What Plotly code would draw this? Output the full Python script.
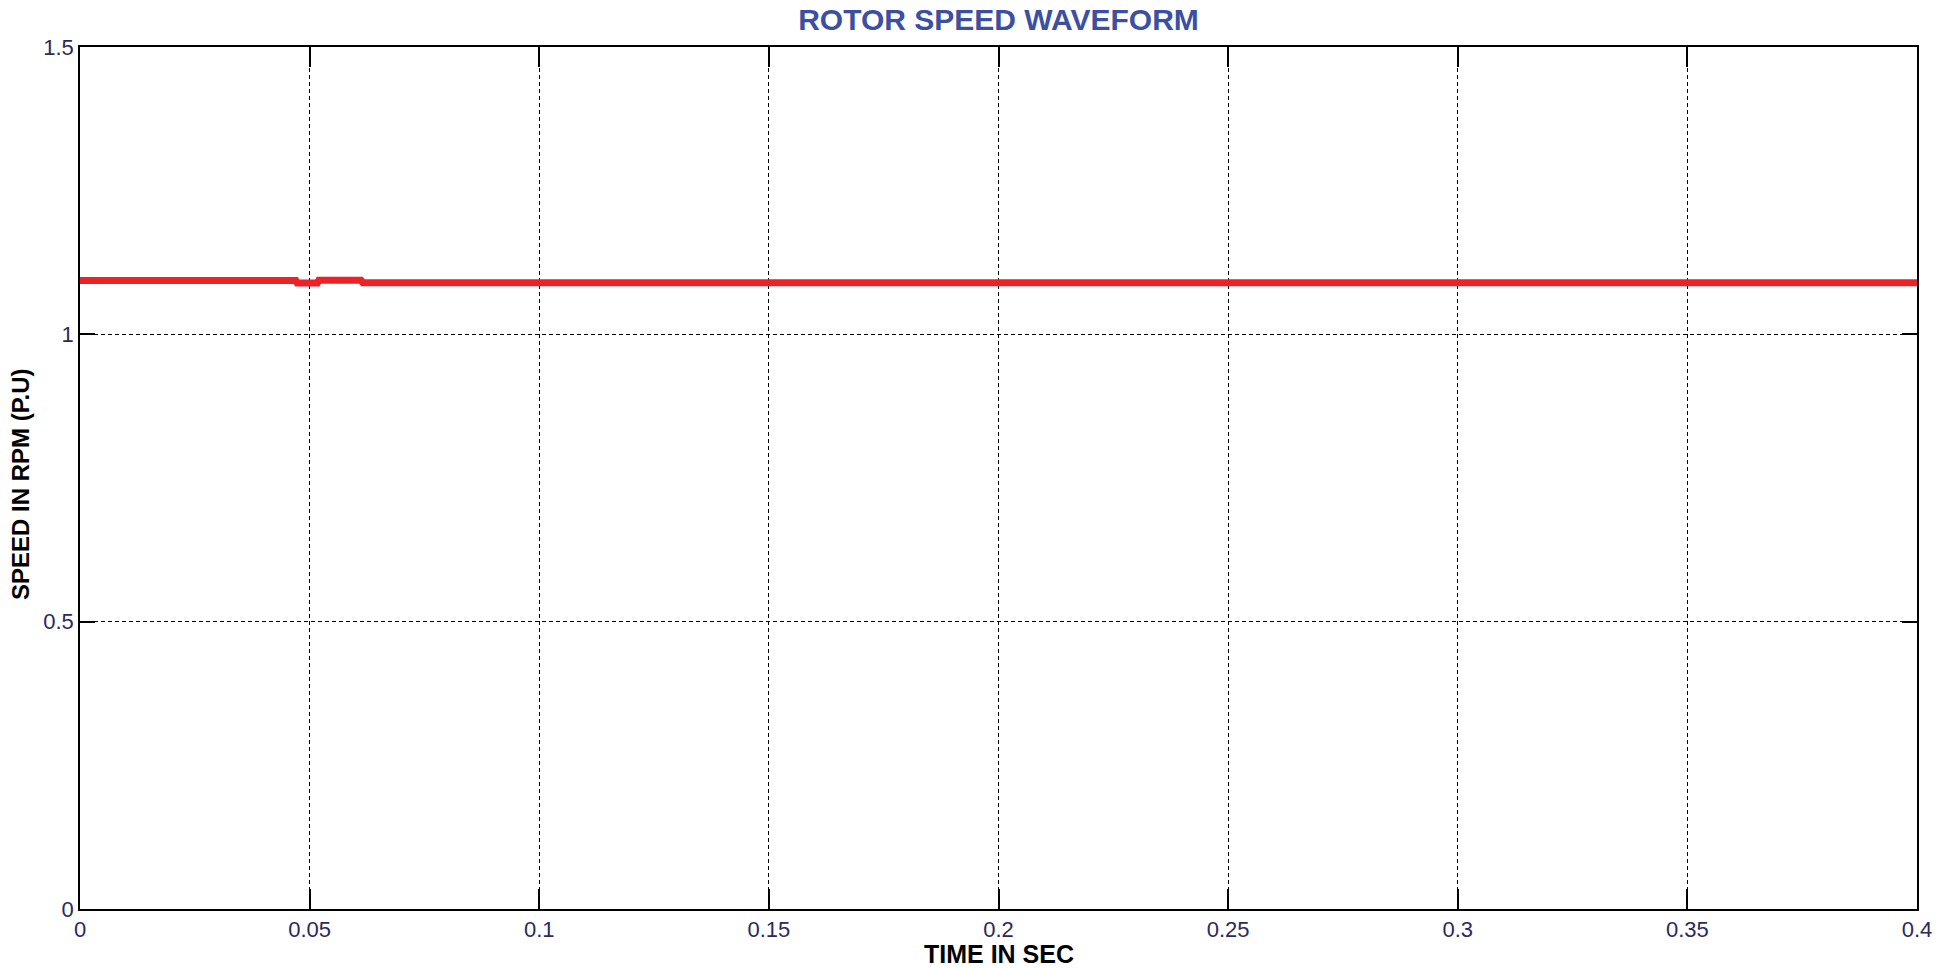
import plotly.graph_objects as go

# Data
time_s = [0.0, 0.0470, 0.0473, 0.0517, 0.0520, 0.0612, 0.0616, 0.0732, 0.0736, 0.0740, 0.4]
speed_pu = [1.0935, 1.0935, 1.0895, 1.0895, 1.0940, 1.0940, 1.0898, 1.0898, 1.0920, 1.0898, 1.0898]

x_ticks = [0, 0.05, 0.1, 0.15, 0.2, 0.25, 0.3, 0.35, 0.4]
x_tick_labels = ["0", "0.05", "0.1", "0.15", "0.2", "0.25", "0.3", "0.35", "0.4"]
y_ticks = [0, 0.5, 1, 1.5]
y_tick_labels = ["0", "0.5", "1", "1.5"]

FONT = "Liberation Sans, Arial, sans-serif"
TICK_COLOR = "#2a2a5e"

W, H = 1938, 969
L, T, PW, PH = 80, 47, 1837, 862

fig = go.Figure()
fig.add_trace(go.Scatter(
    x=time_s, y=speed_pu, mode="lines",
    line=dict(color="#EC2227", width=7),
    showlegend=False, hoverinfo="skip",
))

fig.update_layout(
    width=W, height=H,
    paper_bgcolor="white", plot_bgcolor="white",
    margin=dict(l=L, r=W - L - PW, t=T, b=H - T - PH, autoexpand=False),
    title=dict(
        text="ROTOR SPEED WAVEFORM",
        font=dict(family=FONT, size=30, color="#3B4FA3", weight="bold"),
        x=(L + PW / 2) / W, xanchor="center",
        y=1 - 19 / H, yanchor="middle", yref="container",
    ),
    font=dict(family=FONT),
    annotations=[
        dict(text="TIME IN SEC", xref="paper", yref="paper", x=0.5, y=0,
             xanchor="center", yanchor="middle", yshift=-45, showarrow=False,
             font=dict(family=FONT, size=25, color="black", weight="bold")),
        dict(text="SPEED IN RPM (P.U)", xref="paper", yref="paper", x=0, y=0.5,
             xanchor="center", yanchor="middle", xshift=-60, yshift=-6,
             textangle=-90, showarrow=False,
             font=dict(family=FONT, size=24, color="black", weight="bold")),
    ],
)

fig.update_xaxes(
    range=[0, 0.4], tickvals=x_ticks, ticktext=x_tick_labels,
    showline=True, linecolor="black", linewidth=1.5, mirror="ticks",
    ticks="inside", ticklen=20, tickwidth=1.5, tickcolor="black",
    showgrid=True, gridcolor="black", gridwidth=1, griddash="4px,3px",
    zeroline=False, automargin=False, ticklabeloverflow="allow",
    tickfont=dict(family=FONT, size=22, color=TICK_COLOR),
)
fig.update_yaxes(
    range=[0, 1.5], tickvals=y_ticks, ticktext=y_tick_labels,
    showline=True, linecolor="black", linewidth=1.5, mirror="ticks",
    ticks="inside", ticklen=15, tickwidth=1.5, tickcolor="black",
    showgrid=True, gridcolor="black", gridwidth=1, griddash="4px,3px",
    zeroline=False, automargin=False,
    tickfont=dict(family=FONT, size=22, color=TICK_COLOR),
)

# remove the default 8px page margin so the figure fills the window exactly
fig.write_html("out.html", config={"displayModeBar": False},
               post_script="document.body.style.margin='0';")
